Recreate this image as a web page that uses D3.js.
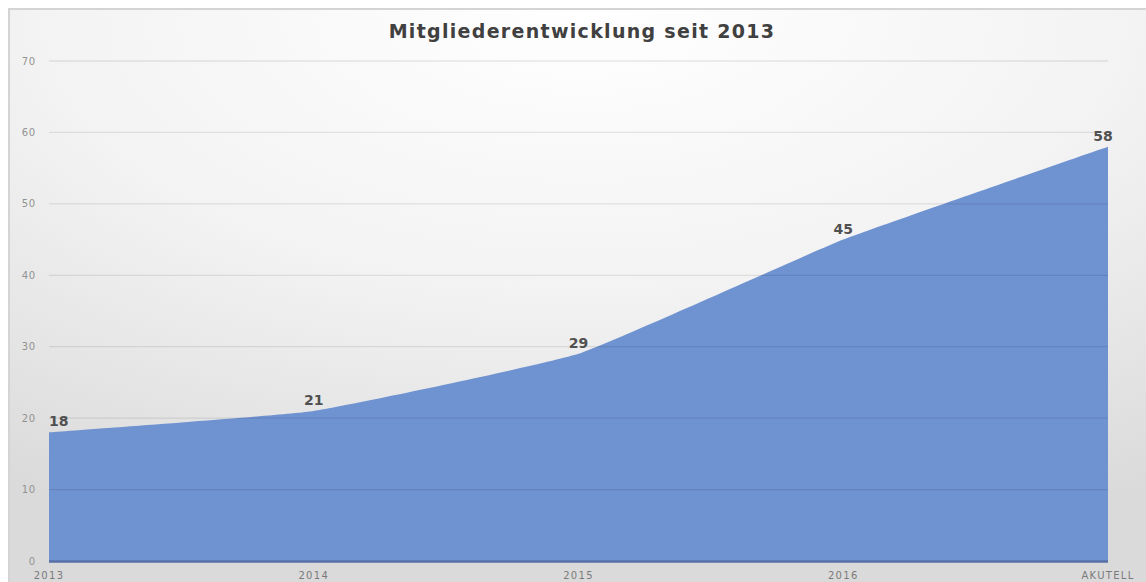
<!DOCTYPE html>
<html>
<head>
<meta charset="utf-8">
<script src="https://cdnjs.cloudflare.com/ajax/libs/d3/7.8.5/d3.min.js"></script>
<style>
  html, body { margin: 0; padding: 0; background: #fff; }
  svg { display: block; }
</style>
</head>
<body>
<svg id="chart"></svg>
<script>
// Chart data
const categories = ["2013", "2014", "2015", "2016", "AKUTELL"];
const members = [18, 21, 29, 45, 58];
const yTicks = [0, 10, 20, 30, 40, 50, 60, 70];
const title = "Mitgliederentwicklung seit 2013";

const width = 1146, height = 582;
const margin = { top: 61, right: 38, bottom: 21, left: 49 };

const svg = d3.select("#chart")
    .attr("width", width)
    .attr("height", height);

// Background gradient (light at top centre, grey at the corners)
const defs = svg.append("defs");
const grad = defs.append("radialGradient")
    .attr("id", "bg")
    .attr("cx", "50%").attr("cy", "0%")
    .attr("r", "95%");
grad.append("stop").attr("offset", "0%").attr("stop-color", "#ffffff");
grad.append("stop").attr("offset", "50%").attr("stop-color", "#f3f3f3");
grad.append("stop").attr("offset", "100%").attr("stop-color", "#dadada");

svg.append("rect")
    .attr("x", 9).attr("y", 9)
    .attr("width", width + 5).attr("height", height + 5)
    .attr("fill", "url(#bg)")
    .attr("stroke", "#d4d4d4")
    .attr("stroke-width", 2);

const x = d3.scalePoint()
    .domain(categories)
    .range([margin.left, width - margin.right]);

const y = d3.scaleLinear()
    .domain([0, 70])
    .range([height - margin.bottom, margin.top]);

// Area (Excel-like light smoothing)
const area = d3.area()
    .x((d, i) => x(categories[i]))
    .y0(y(0))
    .y1(d => y(d))
    .curve(d3.curveCardinal.tension(0.65));

svg.append("path")
    .datum(members)
    .attr("d", area)
    .attr("fill", "#6f92d1");

// Gridlines
svg.append("g")
    .selectAll("line")
    .data(yTicks.filter(t => t > 0))
    .join("line")
    .attr("x1", margin.left)
    .attr("x2", width - margin.right)
    .attr("y1", d => y(d))
    .attr("y2", d => y(d))
    .attr("stroke", "#000")
    .attr("stroke-opacity", 0.09)
    .attr("stroke-width", 1.3);

// Baseline
svg.append("line")
    .attr("x1", margin.left)
    .attr("x2", width - margin.right)
    .attr("y1", y(0) + 0.5)
    .attr("y2", y(0) + 0.5)
    .attr("stroke", "#5670a8")
    .attr("stroke-width", 2.5);

// Y axis labels
svg.append("g")
    .selectAll("text")
    .data(yTicks)
    .join("text")
    .attr("x", 36)
    .attr("y", d => y(d) + 3.5)
    .attr("text-anchor", "end")
    .attr("font-family", "DejaVu Sans")
    .attr("font-size", 10)
    .attr("letter-spacing", 0.8)
    .attr("fill", "#929292")
    .text(d => d);

// X axis labels
svg.append("g")
    .selectAll("text")
    .data(categories)
    .join("text")
    .attr("x", d => x(d))
    .attr("y", 579)
    .attr("text-anchor", "middle")
    .attr("font-family", "DejaVu Sans")
    .attr("font-size", 10)
    .attr("letter-spacing", 1.3)
    .attr("fill", "#7a7a7a")
    .text(d => d);

// Data labels
svg.append("g")
    .selectAll("text")
    .data(members)
    .join("text")
    .attr("x", (d, i) => i === 0 ? x(categories[i]) : x(categories[i]) - (i === categories.length - 1 ? 5 : 0))
    .attr("y", d => y(d) - 6)
    .attr("text-anchor", (d, i) => i === 0 ? "start" : "middle")
    .attr("font-family", "DejaVu Sans")
    .attr("font-weight", "bold")
    .attr("font-size", 14)
    .attr("fill", "#505050")
    .text(d => d);

// Title
svg.append("text")
    .attr("x", 582)
    .attr("y", 38)
    .attr("text-anchor", "middle")
    .attr("font-family", "DejaVu Sans")
    .attr("font-weight", "bold")
    .attr("font-size", 19)
    .attr("letter-spacing", 1.3)
    .attr("fill", "#404040")
    .text(title);
</script>
</body>
</html>
